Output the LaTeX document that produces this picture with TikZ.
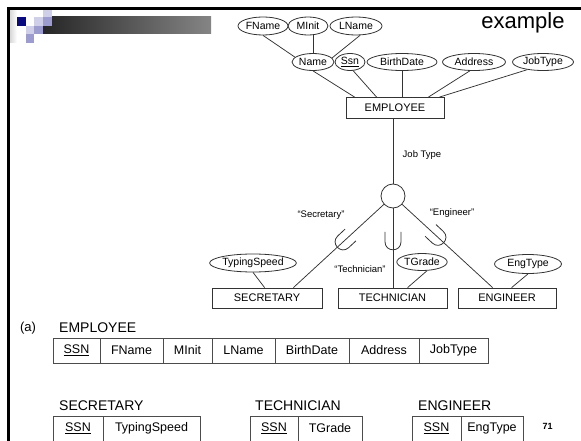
\documentclass[tikz,border=0pt]{standalone}
\usepackage{fontspec}
\setmainfont{Liberation Sans}
\usetikzlibrary{shapes.geometric,calc}
\definecolor{navyblk}{HTML}{0A0A80}
\definecolor{lavmid}{HTML}{9C9CCF}
\definecolor{lavlight}{HTML}{CFCFEA}
\definecolor{inkline}{HTML}{333333}

\begin{document}
\begin{tikzpicture}[x=1pt,y=-1pt,
  attr/.style={ellipse, draw=inkline, line width=0.8pt, inner sep=0pt,
               minimum height=18pt, font=\fontsize{10.5}{12}\selectfont},
  entity/.style={rectangle, draw=inkline, line width=0.8pt, inner sep=0pt,
                 minimum height=20pt, font=\fontsize{11}{13}\selectfont},
  link/.style={draw=inkline, line width=0.75pt},
  lbl/.style={font=\fontsize{9.5}{11}\selectfont, inner sep=0pt},
  cell/.style={font=\fontsize{12.5}{14}\selectfont, inner sep=0pt},
  title/.style={font=\fontsize{14}{16}\selectfont, inner sep=0pt, anchor=west},
  grid/.style={draw=black!70, line width=0.8pt},
  cup/.pic={\draw[inkline, line width=0.8pt] (-8,-10) -- (-8,0)
            .. controls (-8,10.67) and (8,10.67) .. (8,0) -- (8,-10);}
]
\useasboundingbox (0,0) rectangle (581,441);

% slide header: logo squares, shaded bar and frame
\shade[left color=black!15, right color=white] (10,10) rectangle (17,43);
\shade[left color=black!85, right color=black!48] (43,17) rectangle (211,34);
\fill[navyblk]  (17,17) rectangle (26,26);
\fill[lavlight] (34,17) rectangle (43,26);
\fill[lavlight] (43,8)  rectangle (52,17);
\fill[lavmid]   (43,17) rectangle (52,26);
\fill[lavlight] (26,26) rectangle (34,34);
\fill[lavmid]   (34,26) rectangle (43,34);
\fill[lavmid]   (26,34) rectangle (34,43);
\draw[line width=2.7pt, black] (8.7,441) -- (8.7,8.7) -- (581,8.7);

\node[font=\fontsize{22}{24}\selectfont, inner sep=0pt] (ex) at (523,22.5) {example};

% attributes of EMPLOYEE
\node[attr, minimum width=50pt] (fname) at (263,26) {FName};
\node[attr, minimum width=40pt] (minit) at (308,26) {MInit};
\node[attr, minimum width=52pt] (lname) at (356,26) {LName};
\node[attr, minimum width=42pt, minimum height=17pt] (name)  at (313,62) {Name};
\node[attr, minimum width=30pt, minimum height=17pt] (ssn)   at (350,62) {\underline{Ssn}};
\node[attr, minimum width=70pt, minimum height=17pt] (bdate) at (402,62) {BirthDate};
\node[attr, minimum width=63pt, minimum height=17pt] (addr)  at (474,62) {Address};
\node[attr, minimum width=61pt, minimum height=17pt] (jtype) at (543,62) {JobType};

% entities
\node[entity, minimum width=98pt, minimum height=21pt] (emp) at (395,108) {EMPLOYEE};
\node[circle, draw=inkline, line width=0.8pt, minimum size=24pt, inner sep=0pt] (circ) at (393,196) {};
\node[entity, minimum width=110pt] (sec)  at (267,298)   {SECRETARY};
\node[entity, minimum width=109pt] (tech) at (392.5,298) {TECHNICIAN};
\node[entity, minimum width=98pt]  (eng)  at (507,298)   {ENGINEER};

% attributes of the subclasses
\node[attr, minimum width=84pt] (tspeed) at (253,263) {TypingSpeed};
\node[attr, minimum width=50pt, minimum height=17pt] (tgrade) at (422,262) {TGrade};
\node[attr, minimum width=67pt, minimum height=19pt] (etype)  at (528,264) {EngType};

% attribute links
\draw[link] (fname.south) -- (name.165);
\draw[link] (name.north) -- (name.north |- minit.south);
\draw[link] (lname.-66) -- (name.12);
\draw[link] (name.south) -- ($(emp.north west)+(9,0)$);
\draw[link] (ssn.-70) -- ($(emp.north west)+(31,0)$);
\draw[link] (bdate.south) -- (bdate.south |- emp.north);
\draw[link] (addr.-115) -- ($(emp.north east)+(-16,0)$);
\draw[link] (jtype.-154) -- ($(emp.north east)+(-5,0)$);
\draw[link] (tspeed.south) -- ($(sec.north west)+(53,0)$);
\draw[link] (tgrade.-60) -- ($(tech.north west)+(70,0)$);
\draw[link] (etype.south) -- ($(eng.north west)+(54,0)$);

% specialization
\coordinate (secpt) at ($(sec.north east)+(-29,0)$);
\coordinate (engpt) at ($(eng.north west)+(35,0)$);
\coordinate (techpt) at (circ.south |- tech.north);
\draw[link] (circ.north |- emp.south) -- (circ.north);
\draw[link] (circ) -- (secpt);
\draw[link] (circ.south) -- (techpt);
\draw[link] (circ) -- (engpt);
\pic[rotate=-47] at ($(circ)!0.5!(secpt)$) {cup};
\pic at ($(circ)!0.5!(techpt)$) {cup};
\pic[rotate=47] at ($(circ)!0.45!(engpt)$) {cup};

\node[lbl] (ljt)   at (422,155) {Job Type};
\node[lbl] (lsec)  at (321,215) {“Secretary”};
\node[lbl] (ltech) at (360,269) {“Technician”};
\node[lbl] (leng)  at (452,213) {“Engineer”};

% relational schema
\node[font=\fontsize{13}{15}\selectfont, inner sep=0pt] (tag) at (28,328) {(a)};
\node[title] (temp) at (59,328) {EMPLOYEE};
\foreach \a/\b/\t in {53/100/{\underline{SSN}}, 100/163/FName, 163/212/MInit,
                      212/275/LName, 275/349/BirthDate, 349/419/Address, 419/488/JobType}{
  \draw[grid] (\a,338) rectangle (\b,363);
  \node[cell] at ({(\a+\b)/2},350.5) {\t};
}

\node[title] (tsec)  at (59,406)  {SECRETARY};
\node[title] (ttech) at (255,406) {TECHNICIAN};
\node[title] (teng)  at (418,406) {ENGINEER};
\foreach \a/\b/\t in {53/103/{\underline{SSN}}, 103/200/TypingSpeed,
                      250/298/{\underline{SSN}}, 298/362/TGrade,
                      412/461/{\underline{SSN}}, 461/523/EngType}{
  \draw[grid] (\a,416) rectangle (\b,443);
  \node[cell] at ({(\a+\b)/2},428.5) {\t};
}

\node[font=\bfseries\fontsize{9}{10}\selectfont, inner sep=0pt] (pg) at (547.5,426) {71};
\end{tikzpicture}
\end{document}
